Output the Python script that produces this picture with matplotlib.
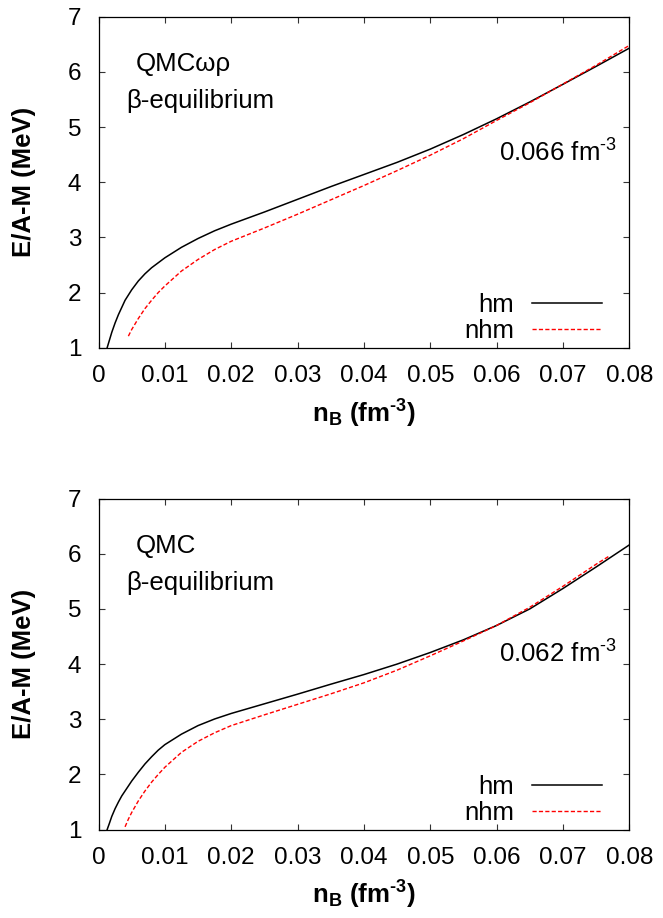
import matplotlib
matplotlib.use("Agg")
import matplotlib.pyplot as plt

plt.rcParams["font.family"] = ["Liberation Sans", "DejaVu Sans"]
plt.rcParams["mathtext.fontset"] = "custom"
plt.rcParams["mathtext.rm"] = "Liberation Sans"
plt.rcParams["mathtext.bf"] = "Liberation Sans:bold"
plt.rcParams["mathtext.it"] = "Liberation Sans:italic"
plt.rcParams["mathtext.default"] = "regular"

# Energy per baryon vs baryon density, QMCωρ model
top_hm_n = [0.0013, 0.0016, 0.002, 0.0025, 0.003, 0.0035, 0.004, 0.005, 0.006, 0.007,
            0.008, 0.009, 0.010, 0.0125, 0.015, 0.0175, 0.020, 0.025, 0.030, 0.035,
            0.040, 0.045, 0.050, 0.055, 0.060, 0.065, 0.070, 0.075, 0.080]
top_hm_e = [1.00, 1.12, 1.28, 1.45, 1.60, 1.73, 1.86, 2.05, 2.21, 2.34,
            2.45, 2.54, 2.63, 2.82, 2.98, 3.12, 3.24, 3.46, 3.69, 3.92,
            4.14, 4.36, 4.60, 4.865, 5.15, 5.455, 5.775, 6.10, 6.43]
top_nhm_n = [0.0045, 0.005, 0.006, 0.007, 0.008, 0.009, 0.010, 0.0125, 0.015, 0.0175,
             0.020, 0.025, 0.030, 0.035, 0.040, 0.045, 0.050, 0.055, 0.060, 0.065,
             0.070, 0.075, 0.080]
top_nhm_e = [1.21, 1.33, 1.53, 1.71, 1.86, 2.00, 2.12, 2.39, 2.60, 2.78,
             2.93, 3.17, 3.42, 3.68, 3.94, 4.21, 4.49, 4.79, 5.12, 5.44,
             5.78, 6.12, 6.48]

# Same quantity, QMC model
bot_hm_n = [0.0013, 0.0016, 0.002, 0.0025, 0.003, 0.0035, 0.004, 0.0045, 0.005, 0.006,
            0.007, 0.008, 0.009, 0.010, 0.0125, 0.015, 0.0175, 0.020, 0.025, 0.030,
            0.035, 0.040, 0.045, 0.050, 0.055, 0.060, 0.065, 0.070, 0.075, 0.080]
bot_hm_e = [1.00, 1.10, 1.24, 1.38, 1.50, 1.61, 1.70, 1.79, 1.88, 2.04,
            2.19, 2.32, 2.44, 2.54, 2.73, 2.885, 3.005, 3.105, 3.28, 3.455,
            3.635, 3.81, 4.00, 4.21, 4.44, 4.70, 5.00, 5.37, 5.76, 6.16]
bot_nhm_n = [0.004, 0.0045, 0.005, 0.006, 0.007, 0.008, 0.009, 0.010, 0.0125, 0.015,
             0.0175, 0.020, 0.025, 0.030, 0.035, 0.040, 0.045, 0.050, 0.055, 0.060,
             0.065, 0.070, 0.075, 0.077]
bot_nhm_e = [1.05, 1.19, 1.31, 1.52, 1.70, 1.86, 2.00, 2.13, 2.40, 2.60,
             2.755, 2.885, 3.08, 3.27, 3.46, 3.66, 3.89, 4.15, 4.42, 4.70,
             5.03, 5.41, 5.81, 5.96]

series_labels = ["hm", "nhm"]
model_names = ["QMCωρ", "QMC"]
transition_labels = ["0.066 fm$^{‐3}$", "0.062 fm$^{‐3}$"]
x_ticks = [0, 0.01, 0.02, 0.03, 0.04, 0.05, 0.06, 0.07, 0.08]
x_tick_labels = ["0", "0.01", "0.02", "0.03", "0.04", "0.05", "0.06", "0.07", "0.08"]
y_ticks = [1, 2, 3, 4, 5, 6, 7]

FS_TICK = 17.5
FS_TEXT = 18.6
FS_LABEL = 18.5

fig = plt.figure(figsize=(6.63, 9.18), dpi=100)
ax_top = fig.add_axes([0.1486, 0.6212, 0.8006, 0.3606])
ax_bot = fig.add_axes([0.1486, 0.0963, 0.8006, 0.3606])

panels = [
    (ax_top, top_hm_n, top_hm_e, top_nhm_n, top_nhm_e, model_names[0], transition_labels[0], 4.37),
    (ax_bot, bot_hm_n, bot_hm_e, bot_nhm_n, bot_nhm_e, model_names[1], transition_labels[1], 4.02),
]

for ax, hn, he, nn, ne, model, trans, trans_y in panels:
    ax.plot(hn, he, color="black", lw=1.1, label=series_labels[0])
    ax.plot(nn, ne, color="#ff0000", lw=1.0, dashes=(3, 1.6), label=series_labels[1])
    ax.set_xlim(0, 0.08)
    ax.set_ylim(1, 7)
    ax.set_xticks(x_ticks)
    ax.set_xticklabels(x_tick_labels)
    ax.set_yticks(y_ticks)
    ax.tick_params(direction="in", length=4, width=0.8, top=True, right=True,
                   labelsize=FS_TICK, pad=12.5, color="#333333")
    for sp in ax.spines.values():
        sp.set_linewidth(0.9)
    ax.set_xlabel(r"$\mathbf{n_B\ (fm^{‐3})}$", fontsize=FS_TEXT, va="baseline")
    ax.xaxis.set_label_coords(0.5, -0.2248)
    ax.set_ylabel("E/A-M (MeV)", fontsize=FS_LABEL, fontweight="bold", va="baseline")
    ax.yaxis.set_label_coords(-0.127, 0.5)
    ax.text(0.00565, 6.01, model, fontsize=FS_TEXT, va="baseline", ha="left")
    ax.text(0.0042, 5.35, "β-equilibrium", fontsize=FS_TEXT, va="baseline", ha="left")
    ax.text(0.0603, trans_y, trans, fontsize=FS_TEXT, va="baseline", ha="left")
    ax.legend(loc="lower right", bbox_to_anchor=(0.949, 0.015), borderaxespad=0,
              borderpad=0, frameon=False, markerfirst=False, fontsize=FS_TEXT,
              handlelength=2.72, handletextpad=0.68, labelspacing=0.05)

fig.savefig("out.png", dpi=100)
